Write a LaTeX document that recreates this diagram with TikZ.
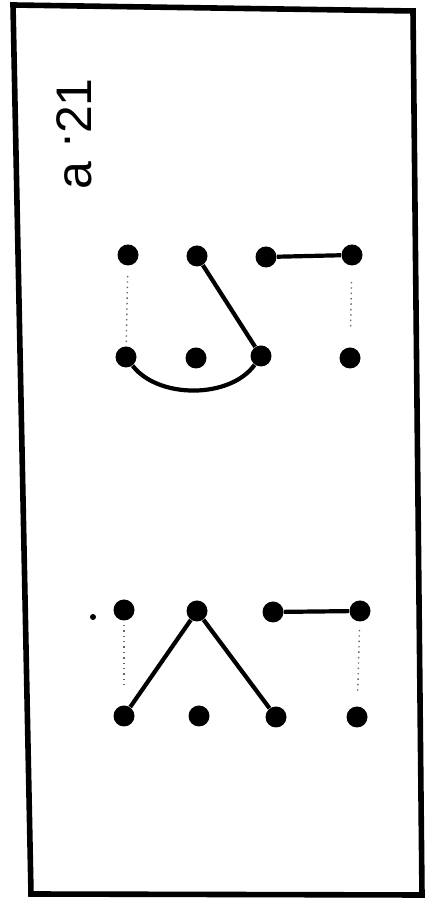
\documentclass[tikz,border=0pt]{standalone}
\usepackage{fontspec}
\newfontfamily\labelfont{Liberation Sans}
\usetikzlibrary{positioning}

\begin{document}
\begin{tikzpicture}[
  x=0.5pt, y=0.5pt,
  peg/.style={circle, fill=black, inner sep=0pt, minimum size=10.5pt},
  link/.style={line width=2.1pt},
  hint/.style={dotted, line width=0.7pt, black!60},
  frame/.style={line width=2.8pt, line join=miter}
]
  \useasboundingbox (0,0) rectangle (430,899);
  \draw[frame] (13,894) -- (413,888) -- (422,4) -- (31,5) -- cycle;

  \node[rotate=90, anchor=base west, inner sep=0pt, font=\labelfont\fontsize{25}{30}\selectfont]
    (title) at (91,709) {a \raisebox{0.42em}{.}21};

  % upper pattern
  \node[peg] (u1) at (128,644) {};
  \node[peg] (u2) at (197,643) {};
  \node[peg] (u3) at (266,642) {};
  \node[peg] (u4) at (352,644) {};
  \node[peg] (v1) at (126,542) {};
  \node[peg] (v2) at (196,541) {};
  \node[peg] (v3) at (261,543) {};
  \node[peg] (v4) at (350,541) {};

  \draw[hint, shorten <=5pt, shorten >=2pt] (u1) -- (v1);
  \draw[hint, shorten <=8pt, shorten >=9pt] (u4) -- (v4);
  \draw[link] (u2) -- (v3);
  \draw[link] (u3) -- (u4);
  \draw[link] (v1) .. controls (158,500) and (230,500) .. (v3);

  % lower pattern
  \node[peg] (l1) at (124,289) {};
  \node[peg] (l2) at (197,288) {};
  \node[peg] (l3) at (273,287) {};
  \node[peg] (l4) at (360,288) {};
  \node[peg] (m1) at (124,183) {};
  \node[peg] (m2) at (199,183) {};
  \node[peg] (m3) at (276,182) {};
  \node[peg] (m4) at (357,182) {};

  \draw[hint, shorten <=2pt, shorten >=10pt] (l1) -- (m1);
  \draw[hint, shorten <=4pt, shorten >=7pt] (l4) -- (m4);
  \draw[link] (m1) -- (l2) -- (m3);
  \draw[link] (l3) -- (l4);

  \fill (93,282) circle (3);
\end{tikzpicture}
\end{document}
